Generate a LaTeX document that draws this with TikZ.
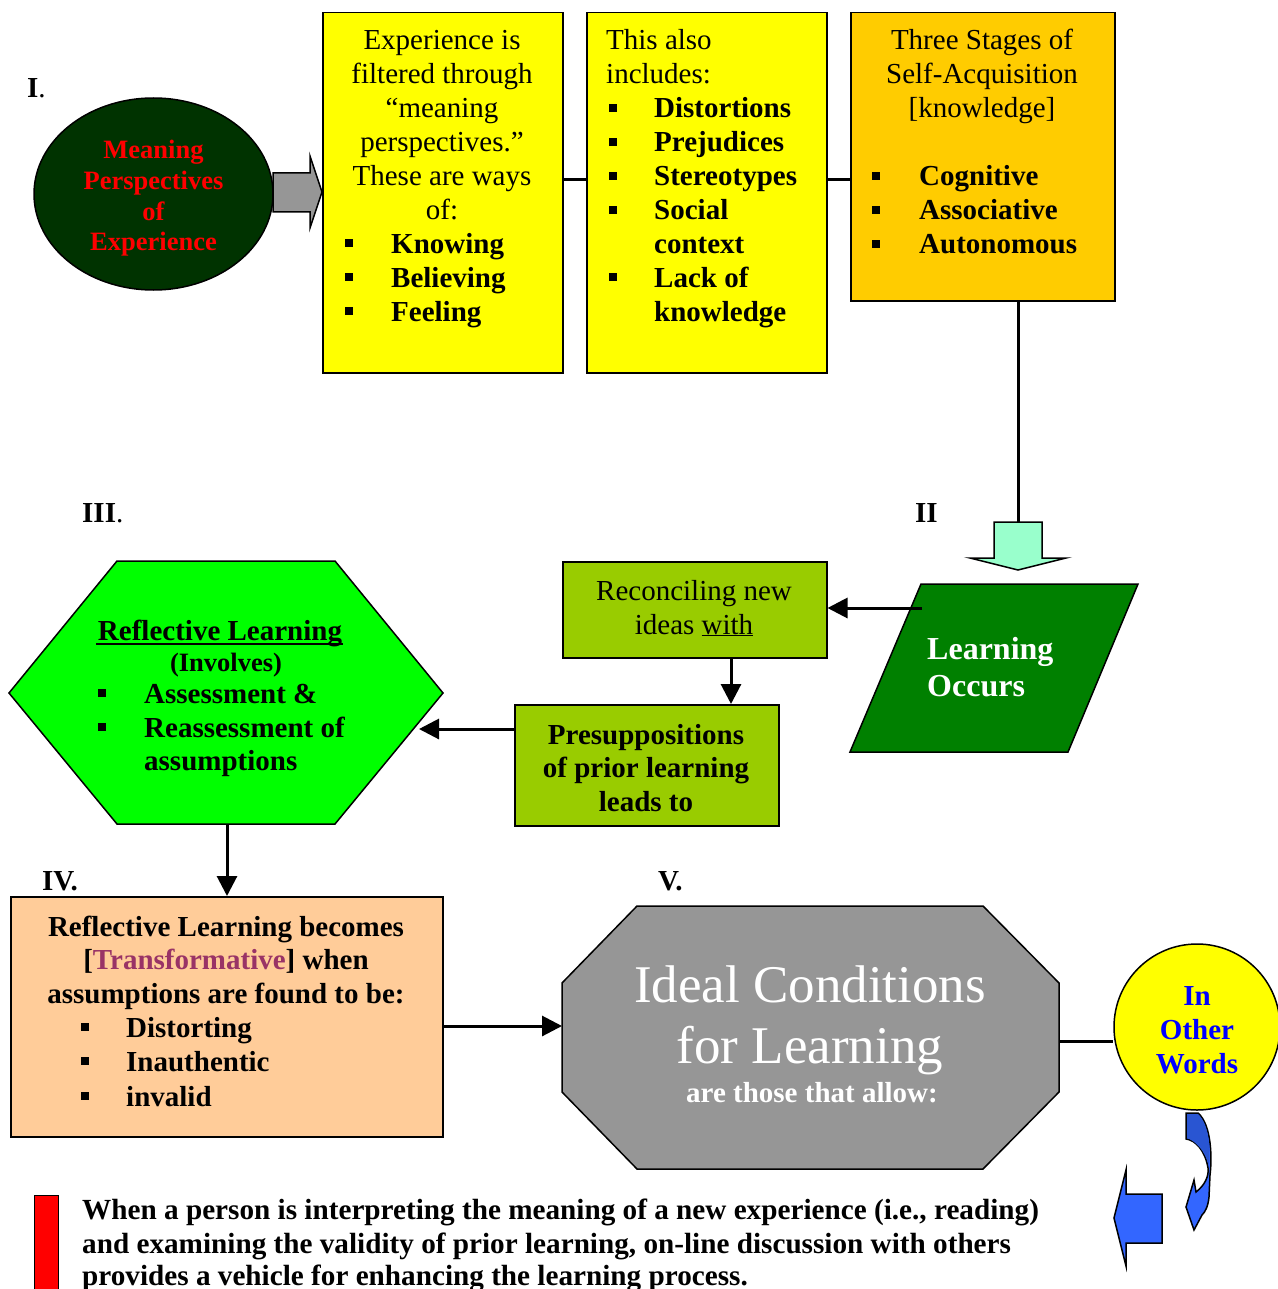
\documentclass[tikz,border=0pt]{standalone}
\usepackage{fontspec}
\setmainfont{Liberation Serif}
\usetikzlibrary{shapes.geometric,arrows.meta}
\definecolor{dkgreen}{RGB}{0,51,0}
\definecolor{shapegray}{RGB}{150,150,150}
\definecolor{ylw}{RGB}{255,255,0}
\definecolor{orng}{RGB}{255,204,0}
\definecolor{mint}{RGB}{153,255,204}
\definecolor{olive}{RGB}{153,204,0}
\definecolor{lime}{RGB}{0,255,0}
\definecolor{peach}{RGB}{255,204,153}
\definecolor{midgreen}{RGB}{0,128,0}
\definecolor{plum}{RGB}{153,51,102}
\definecolor{arrblue}{RGB}{51,102,255}
\definecolor{arrblued}{RGB}{41,85,210}
\definecolor{txtblue}{RGB}{0,0,255}
\newcounter{lnc}
\newcommand\TxtAt[4][]{\stepcounter{lnc}\node[tl,#1] (ln\arabic{lnc}) at (#2,#3) {#4};}
\newcommand\BulAt[2]{\stepcounter{lnc}\node[bul] (bu\arabic{lnc}) at ({#1},{#2-6}) {};}
\begin{document}
\begin{tikzpicture}[x=1pt,y=-1pt,
 tl/.style={anchor=base, inner sep=0pt, font=\fontsize{29}{34}\selectfont},
 bf/.style={font=\fontsize{29}{34}\selectfont\bfseries},
 bul/.style={fill=black, minimum size=8pt, inner sep=0pt, anchor=south west},
 shp/.style={draw=black, line width=1.5pt, line join=miter},
 boxn/.style={shp, anchor=north west, inner sep=0pt},
 conn/.style={line width=3pt},
 arr/.style={conn, -{Triangle[length=20pt,width=20pt]}},
]
\useasboundingbox (0,0) rectangle (1277,1289);

% ---------- top row ----------
\draw[shp, fill=shapegray] (273,173) -- (310,173) -- (310,156) -- (322,192) -- (310,228) -- (310,212) -- (273,212) -- cycle;
\node[shp, ellipse, fill=dkgreen, minimum width=239, minimum height=192] (mp) at (153.5,194) {};
\node[boxn, fill=ylw, minimum width=240, minimum height=360] (b1) at (322,12) {};
\node[boxn, fill=ylw, minimum width=240, minimum height=360] (b2) at (586,12) {};
\node[boxn, fill=orng, minimum width=264, minimum height=288] (b3) at (850,12) {};
\coordinate (ry) at (0,180);
\draw[conn] (b1.east |- ry) -- (b2.west |- ry);
\draw[conn] (b2.east |- ry) -- (b3.west |- ry);

\TxtAt[anchor=base west]{27}{98}{\textbf{I}.}
\TxtAt[text=red, font=\fontsize{26.5}{31}\selectfont\bfseries]{153.5}{159}{Meaning}
\TxtAt[text=red, font=\fontsize{26.5}{31}\selectfont\bfseries]{153.5}{190}{Perspectives}
\TxtAt[text=red, font=\fontsize{26.5}{31}\selectfont\bfseries]{153.5}{221}{of}
\TxtAt[text=red, font=\fontsize{26.5}{31}\selectfont\bfseries]{153.5}{251}{Experience}

\TxtAt{442}{50}{Experience is}
\TxtAt{442}{84}{filtered through}
\TxtAt{442}{118}{“meaning}
\TxtAt{442}{152}{perspectives.”}
\TxtAt{442}{186}{These are ways}
\TxtAt{442}{220}{of:}
\BulAt{345}{253}\TxtAt[anchor=base west,bf]{391}{253}{Knowing}
\BulAt{345}{287}\TxtAt[anchor=base west,bf]{391}{287}{Believing}
\BulAt{345}{321}\TxtAt[anchor=base west,bf]{391}{321}{Feeling}

\TxtAt[anchor=base west]{606}{50}{This also}
\TxtAt[anchor=base west]{606}{84}{includes:}
\BulAt{609}{118}\TxtAt[anchor=base west,bf]{654}{118}{Distortions}
\BulAt{609}{152}\TxtAt[anchor=base west,bf]{654}{152}{Prejudices}
\BulAt{609}{186}\TxtAt[anchor=base west,bf]{654}{186}{Stereotypes}
\BulAt{609}{220}\TxtAt[anchor=base west,bf]{654}{220}{Social}
\TxtAt[anchor=base west,bf]{654}{254}{context}
\BulAt{609}{287}\TxtAt[anchor=base west,bf]{654}{287}{Lack of}
\TxtAt[anchor=base west,bf]{654}{321}{knowledge}

\TxtAt{982}{50}{Three Stages of}
\TxtAt{982}{84}{Self-Acquisition}
\TxtAt{982}{118}{[knowledge]}
\BulAt{872}{186}\TxtAt[anchor=base west,bf]{919}{186}{Cognitive}
\BulAt{872}{220}\TxtAt[anchor=base west,bf]{919}{220}{Associative}
\BulAt{872}{254}\TxtAt[anchor=base west,bf]{919}{254}{Autonomous}

% ---------- middle row ----------
\coordinate (mtop) at (1018,522);
\draw[conn] (b3.south -| mtop) -- (mtop);
\draw[shp, fill=mint] (994,522) -- (1042,522) -- (1042,558) -- (1066,558) -- (1018,570) -- (970,558) -- (994,558) -- cycle;
\TxtAt[anchor=base west,bf]{915}{522}{II}
\TxtAt[anchor=base west]{82}{522}{\textbf{III}.}

\draw[shp, fill=midgreen] (921,584) -- (1138,584) -- (1068,752) -- (850,752) -- cycle;
\coordinate (lo) at (922,608);
\TxtAt[anchor=base west, text=white, font=\fontsize{32}{36}\selectfont\bfseries]{927}{659}{Learning}
\TxtAt[anchor=base west, text=white, font=\fontsize{32}{36}\selectfont\bfseries]{927}{696}{Occurs}

\node[boxn, fill=olive, minimum width=264, minimum height=96] (rec) at (562,561) {};
\draw[arr] (lo) -- (rec.east |- lo);
\TxtAt{694}{600}{Reconciling new}
\TxtAt{694}{634}{ideas \underline{with}}

\node[boxn, fill=olive, minimum width=264, minimum height=121] (pre) at (514,704) {};
\coordinate (rx) at (731,0);
\draw[arr] (rec.south -| rx) -- (pre.north -| rx);
\TxtAt[bf]{646}{744}{Presuppositions}
\TxtAt[bf]{646}{777}{of prior learning}
\TxtAt[bf]{646}{811}{leads to}

\draw[shp, fill=lime] (117,561) -- (335,561) -- (443,693) -- (335,824) -- (117,824) -- (9,693) -- cycle;
\coordinate (hexR) at (419,729);
\coordinate (hexB) at (227,824);
\draw[arr] (pre.west |- hexR) -- (hexR);
\TxtAt[bf]{220}{640}{Reflective Learning}
\draw[line width=1.5pt] (96,644) -- (343,644);
\TxtAt[font=\fontsize{26.5}{31}\selectfont\bfseries]{226}{671}{(Involves)}
\BulAt{98}{703}\TxtAt[anchor=base west,bf]{144}{703}{Assessment \&}
\BulAt{98}{737}\TxtAt[anchor=base west,bf]{144}{737}{Reassessment of}
\TxtAt[anchor=base west,bf]{144}{770}{assumptions}

% ---------- bottom row ----------
\node[boxn, fill=peach, minimum width=432, minimum height=240] (pc) at (10,896) {};
\draw[arr] (hexB) -- (hexB |- pc.north);
\TxtAt[anchor=base west,bf]{42}{890}{IV.}
\TxtAt[anchor=base west,bf]{658}{890}{V.}
\TxtAt[bf]{226}{936}{Reflective Learning becomes}
\TxtAt[bf]{226}{969}{[\textcolor{plum}{Transformative}] when}
\TxtAt[bf]{226}{1003}{assumptions are found to be:}
\BulAt{81}{1037}\TxtAt[anchor=base west,bf]{126}{1037}{Distorting}
\BulAt{81}{1071}\TxtAt[anchor=base west,bf]{126}{1071}{Inauthentic}
\BulAt{81}{1106}\TxtAt[anchor=base west,bf]{126}{1106}{invalid}

\draw[shp, fill=shapegray] (637,906) -- (983,906) -- (1059,983) -- (1059,1092) -- (983,1169) -- (637,1169) -- (562,1092) -- (562,983) -- cycle;
\coordinate (octW) at (562,1026);
\coordinate (octE) at (1059,1041);
\draw[arr] (pc.east |- octW) -- (octW);
\TxtAt[text=white, font=\fontsize{53}{61}\selectfont]{810}{1002}{Ideal Conditions}
\TxtAt[text=white, font=\fontsize{53}{61}\selectfont]{810}{1063}{for Learning}
\TxtAt[text=white, bf]{812}{1102}{are those that allow:}

\node[shp, circle, fill=ylw, minimum size=166, inner sep=0pt] (iow) at (1197,1027) {};
\draw[conn] (octE) -- (iow.west |- octE);
\TxtAt[text=txtblue, bf]{1197}{1005}{In}
\TxtAt[text=txtblue, bf]{1197}{1039}{Other}
\TxtAt[text=txtblue, bf]{1197}{1073}{Words}

% curved arrow
\draw[shp, fill=arrblue] (1186,1113) -- (1198,1113) .. controls (1212,1125) and (1212,1160) .. (1210,1175) -- (1209,1197) .. controls (1208,1207) and (1205,1212) .. (1202,1215) -- (1194,1230) -- (1186,1207) -- (1194,1180) -- (1196,1192) .. controls (1205,1185) and (1209,1176) .. (1208,1168) .. controls (1205,1150) and (1195,1140) .. (1186,1139) -- cycle;
\fill[arrblued] (1187,1114) -- (1198,1114) .. controls (1210,1126) and (1210,1150) .. (1209,1166) .. controls (1205,1150) and (1195,1141) .. (1187,1138) -- cycle;
% left block arrow
\draw[shp, fill=arrblue] (1162,1194) -- (1126,1194) -- (1126,1170) -- (1114,1218) -- (1126,1266) -- (1126,1243) -- (1162,1243) -- cycle;

% red bar and bottom text
\draw[line width=1pt, fill=red] (34,1195) rectangle (58,1300);
\TxtAt[anchor=base west, font=\fontsize{29.2}{34}\selectfont\bfseries]{82}{1219}{When a person is interpreting the meaning of a new experience (i.e., reading)}
\TxtAt[anchor=base west, font=\fontsize{29.2}{34}\selectfont\bfseries]{82}{1253}{and examining the validity of prior learning, on-line discussion with others}
\TxtAt[anchor=base west, font=\fontsize{29.2}{34}\selectfont\bfseries]{82}{1285}{provides a vehicle for enhancing the learning process.}
\end{tikzpicture}
\end{document}
